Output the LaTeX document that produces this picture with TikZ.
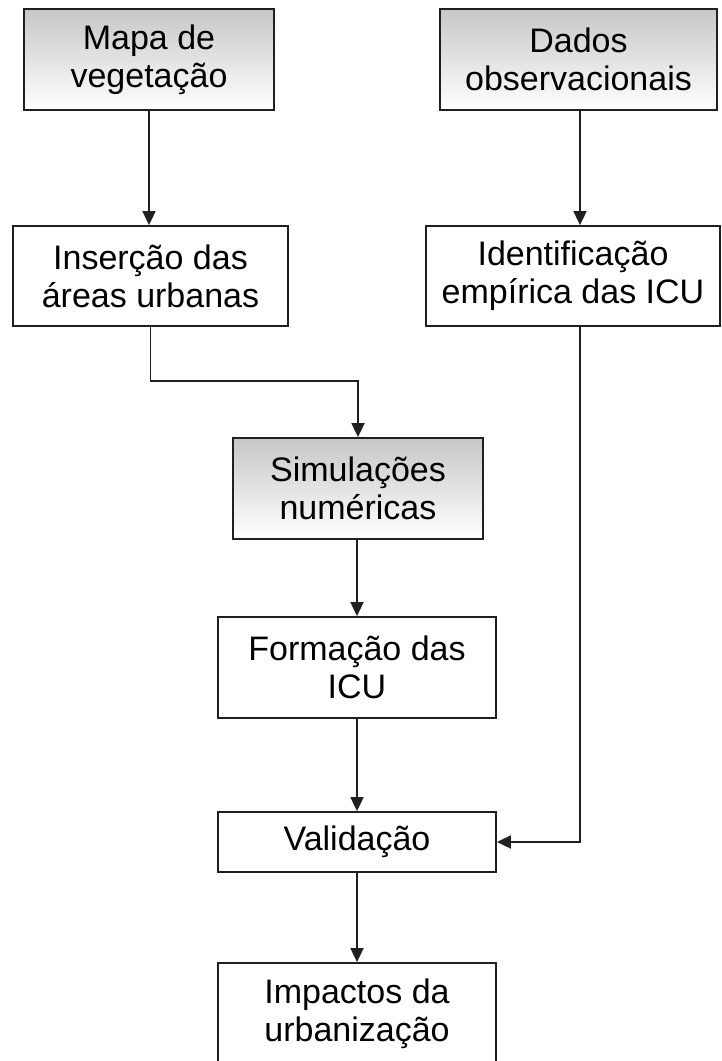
\documentclass[tikz,border=0pt]{standalone}
\usepackage{fontspec}
\setmainfont{Liberation Sans}
\usetikzlibrary{arrows.meta}
\definecolor{linha}{HTML}{202020}

\begin{document}
\begin{tikzpicture}[x=1pt, y=-1pt,
        caixa/.style={draw=linha, line width=1.8pt, align=center, inner sep=0pt,
                      font=\fontsize{34}{38}\selectfont},
        sombra/.style={caixa, top color=black!22, bottom color=white},
        seta/.style={draw=linha, line width=1.8pt, -{Triangle[length=14pt, width=13pt]}}]
        \useasboundingbox (0,0) rectangle (721,1061);
        \node [sombra, minimum width=250pt, minimum height=101pt] (mapa) at (149,59.5) {Mapa de\\vegetação};
        \node [sombra, minimum width=277pt, minimum height=101pt] (dados) at (578.5,59.5) {Dados\\observacionais};
        \node [caixa, minimum width=275pt, minimum height=100pt] (insercao) at (150.5,276) {Inserção das\\áreas urbanas};
        \node [caixa, minimum width=294pt, minimum height=100pt] (ident) at (573,276) {Identificação\\empírica das ICU};
        \node [sombra, minimum width=250pt, minimum height=101pt] (simul) at (358,488.5) {Simulações\\numéricas};
        \node [caixa, minimum width=278pt, minimum height=101pt] (formacao) at (357,667.5) {Formação das\\ICU};
        \node [caixa, minimum width=278pt, minimum height=60pt] (valid) at (357,842) {Validação};
        \node [caixa, minimum width=278pt, minimum height=101pt] (impactos) at (357,1013.5) {Impactos da\\urbanização};
        \coordinate (dobra) at (250,381); % cotovelo entre insercao e simul
        \coordinate (desce) at (580,110);
        \draw [seta] (mapa) -- (mapa.south |- insercao.north);
        \draw [seta] (desce) -- (desce |- ident.north);
        \draw [seta] (insercao.south) |- (dobra) -| (simul.north);
        \draw [seta] (simul.south -| formacao.north) -- (formacao.north);
        \draw [seta] (formacao.south) -- (valid.north);
        \draw [seta] (desce |- ident.south) |- (valid.east);
        \draw [seta] (valid.south) -- (impactos.north);
    \end{tikzpicture}
\end{document}
